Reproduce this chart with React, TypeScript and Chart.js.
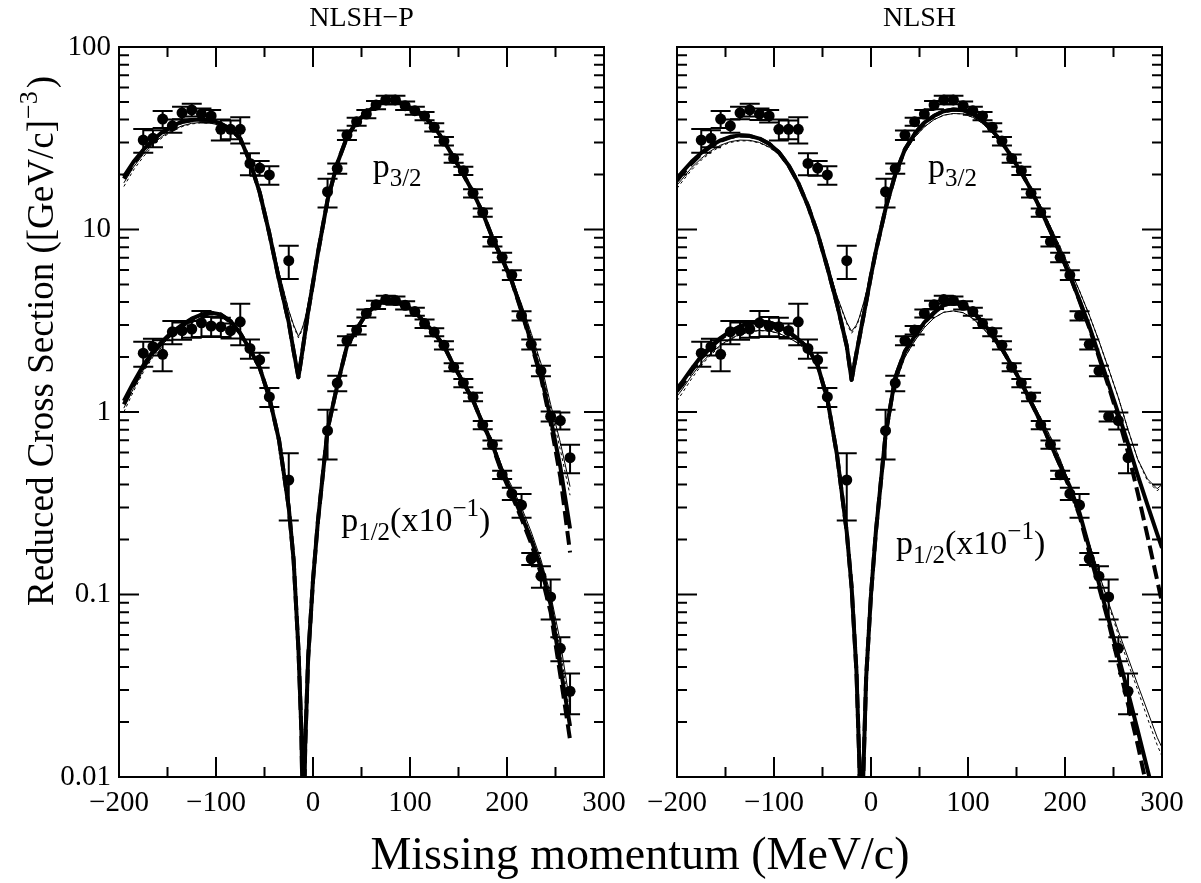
import { useEffect, useRef } from 'react';
import { Chart, registerables } from 'chart.js';

Chart.register(...registerables);

// ---------------- data ----------------
// measured points (same data in both panels)
const DATA_X = [-175, -165, -155, -145, -135, -125, -115, -105, -95, -85, -75, -65, -55, -45, -25, 15, 25, 35, 45, 55, 65, 75, 85, 95, 105, 115, 125, 135, 145, 155, 165, 175, 185, 195, 205, 215, 225, 235, 245, 255, 265];
const P32_Y = [30.9, 31.6, 40.3, 37.0, 43.6, 45.2, 42.9, 41.9, 35.4, 35.4, 35.4, 23.0, 21.7, 19.9, 6.75, 16.1, 21.6, 32.9, 39.0, 42.9, 48.1, 51.3, 51.3, 47.7, 44.8, 41.9, 36.3, 30.5, 24.5, 21.0, 15.8, 12.4, 8.58, 7.04, 5.63, 3.37, 2.35, 1.68, 0.946, 0.898, 0.562];
const P32_ERR = [4.6, 3.4, 4.3, 3.1, 3.4, 3.6, 3.1, 3.3, 4.7, 4.2, 5.8, 3.2, 2.0, 2.3, 1.4, 2.9, 1.4, 2.0, 2.0, 2.2, 2.5, 2.7, 2.7, 2.5, 2.3, 2.2, 1.9, 1.6, 1.3, 1.1, 0.82, 0.65, 0.52, 0.42, 0.35, 0.2, 0.15, 0.11, 0.06, 0.095, 0.1];
const P12_Y = [2.10, 2.28, 2.07, 2.75, 2.79, 2.85, 3.08, 2.96, 2.93, 2.79, 3.12, 2.23, 1.93, 1.21, 0.424, 0.79, 1.44, 2.46, 2.81, 3.47, 3.87, 4.13, 4.08, 3.84, 3.55, 3.05, 2.74, 2.32, 1.76, 1.44, 1.21, 0.849, 0.664, 0.453, 0.357, 0.309, 0.157, 0.126, 0.097, 0.0507, 0.0295];
const P12_ERR = [0.33, 0.24, 0.40, 0.40, 0.30, 0.30, 0.50, 0.36, 0.35, 0.26, 0.8, 0.27, 0.18, 0.145, 0.17, 0.24, 0.14, 0.14, 0.15, 0.18, 0.2, 0.21, 0.21, 0.2, 0.18, 0.16, 0.14, 0.12, 0.09, 0.075, 0.063, 0.044, 0.035, 0.024, 0.028, 0.046, 0.012, 0.017, 0.024, 0.0076, 0.0074];

// calculations, left panel (NLSH-P)
const CURVE_X_L = [-195, -185, -175, -165, -155, -145, -135, -125, -115, -105, -95, -85, -75, -65, -55, -45, -35, -25, -20, -15, -12, -10, -8, -5, 0, 5, 15, 25, 35, 45, 55, 65, 75, 85, 95, 105, 115, 125, 135, 145, 155, 165, 175, 185, 195, 205, 215, 225, 235, 245, 255, 265];
const L_P32_THICK = [19.5, 23.5, 27.3, 30.9, 34.3, 36.9, 39, 39.8, 40, 39.8, 38, 35.5, 31.5, 23.5, 16, 9.5, 5.3, 3.1, 2.16, 1.55, 1.97, 2.33, 2.75, 3.54, 5.1, 7.4, 14.5, 23, 32, 39, 43.5, 48, 51, 51, 48, 45, 41.5, 36.5, 30.5, 24.8, 20, 16, 12.3, 9.0, 6.9, 5.2, 3.6, 2.4, 1.6, 0.92, 0.5, 0.23];
const L_P32_DASH = [19, 23, 27, 30.6, 34, 36.7, 38.8, 39.7, 40, 39.8, 38, 35.5, 31.5, 23.5, 16, 9.5, 5.3, 3.1, 2.16, 1.55, 1.97, 2.33, 2.75, 3.54, 5.1, 7.4, 14.5, 23, 32, 39, 43.5, 48, 51, 51, 48, 45, 41.5, 36.5, 30.5, 24.8, 20, 16, 12.3, 9.0, 6.9, 5.2, 3.55, 2.35, 1.55, 0.87, 0.44, 0.17];
const L_P32_THIN = [18, 22, 25.8, 29.5, 32.5, 35, 37, 38.2, 38.6, 38.3, 37, 34.8, 31, 23.5, 16.2, 9.8, 5.8, 3.6, 3.0, 2.6, 2.8, 3.0, 3.3, 3.9, 5.3, 7.5, 14.5, 23, 32, 39, 43.5, 48, 51, 51, 48, 45, 41.5, 36.5, 30.5, 24.8, 20, 16, 12.4, 9.2, 7.1, 5.4, 3.9, 2.7, 1.85, 1.1, 0.68, 0.39];
const L_P32_DOT = [17.2, 21.2, 25, 28.8, 32, 34.5, 36.6, 37.9, 38.4, 38.2, 37, 34.8, 31, 23.5, 16.2, 9.8, 5.8, 3.6, 2.95, 2.55, 2.75, 2.95, 3.25, 3.85, 5.3, 7.5, 14.5, 23, 32, 39, 43.5, 48, 51, 51, 48, 45, 41.5, 36.5, 30.5, 24.8, 20, 16, 12.4, 9.2, 7.1, 5.4, 3.85, 2.65, 1.8, 1.05, 0.62, 0.35];
const L_P12_THICK = [1.15, 1.45, 1.8, 2.15, 2.45, 2.75, 3.0, 3.25, 3.42, 3.5, 3.42, 3.15, 2.7, 2.2, 1.75, 1.2, 0.7, 0.3, 0.155, 0.05, 0.018, 0.004, 0.015, 0.045, 0.12, 0.25, 0.8, 1.4, 2.3, 2.85, 3.45, 3.85, 4.1, 4.05, 3.85, 3.55, 3.1, 2.72, 2.3, 1.8, 1.45, 1.16, 0.86, 0.66, 0.47, 0.36, 0.27, 0.2, 0.14, 0.088, 0.04, 0.019];
const L_P12_DASH = [1.1, 1.4, 1.76, 2.1, 2.42, 2.72, 2.98, 3.23, 3.4, 3.48, 3.42, 3.15, 2.7, 2.2, 1.75, 1.2, 0.7, 0.3, 0.155, 0.05, 0.018, 0.004, 0.015, 0.045, 0.12, 0.25, 0.8, 1.4, 2.3, 2.85, 3.45, 3.85, 4.1, 4.05, 3.85, 3.55, 3.1, 2.72, 2.3, 1.8, 1.45, 1.16, 0.86, 0.65, 0.46, 0.35, 0.26, 0.19, 0.13, 0.08, 0.036, 0.016];
const L_P12_THIN = [1.05, 1.35, 1.7, 2.05, 2.35, 2.65, 2.9, 3.12, 3.28, 3.35, 3.3, 3.08, 2.68, 2.2, 1.75, 1.2, 0.7, 0.3, 0.155, 0.052, 0.019, 0.004, 0.016, 0.047, 0.125, 0.26, 0.8, 1.4, 2.3, 2.85, 3.42, 3.82, 4.05, 4.02, 3.82, 3.55, 3.12, 2.75, 2.33, 1.84, 1.5, 1.2, 0.9, 0.7, 0.5, 0.39, 0.3, 0.22, 0.155, 0.1, 0.055, 0.025];
const L_P12_DOT = [1.0, 1.3, 1.65, 2.0, 2.3, 2.6, 2.85, 3.08, 3.25, 3.33, 3.28, 3.06, 2.67, 2.2, 1.75, 1.2, 0.7, 0.3, 0.155, 0.052, 0.019, 0.004, 0.016, 0.047, 0.125, 0.26, 0.8, 1.4, 2.3, 2.85, 3.42, 3.82, 4.05, 4.02, 3.82, 3.55, 3.12, 2.75, 2.33, 1.84, 1.5, 1.2, 0.9, 0.7, 0.5, 0.38, 0.29, 0.21, 0.15, 0.095, 0.05, 0.022];

// calculations, right panel (NLSH)
const CURVE_X_R = [-200, -195, -185, -175, -165, -155, -145, -135, -125, -115, -105, -95, -85, -75, -65, -55, -45, -35, -25, -20, -15, -12, -10, -8, -5, 0, 5, 15, 25, 35, 45, 55, 65, 75, 85, 95, 105, 115, 125, 135, 145, 155, 165, 175, 185, 195, 205, 215, 225, 235, 245, 255, 265, 275, 285, 295, 300];
const R_P32_THICK = [19, 20.5, 23.5, 26.3, 28.8, 30.8, 32.2, 32.8, 32.6, 31.5, 29.5, 26.5, 22.5, 18, 13.5, 9.5, 6.2, 3.9, 2.3, 1.5, 2.1, 2.55, 2.9, 3.3, 4.0, 5.6, 7.6, 13, 20, 27.5, 33.5, 38.5, 42, 44.5, 45.5, 45, 43, 39.5, 35, 30, 25, 20.5, 16.5, 12.8, 9.8, 7.4, 5.6, 4.1, 2.95, 2.05, 1.42, 0.98, 0.67, 0.45, 0.31, 0.215, 0.18];
const R_P32_DASH = [18.5, 20, 23, 26, 28.5, 30.6, 32, 32.7, 32.5, 31.5, 29.5, 26.5, 22.5, 18, 13.5, 9.5, 6.2, 3.9, 2.3, 1.5, 2.1, 2.55, 2.9, 3.3, 4.0, 5.6, 7.6, 13, 20, 27.5, 33.5, 38.5, 42, 44.5, 45.5, 45, 43, 39.5, 35, 30, 25, 20.5, 16.5, 12.8, 9.8, 7.4, 5.6, 4.05, 2.9, 2.0, 1.38, 0.93, 0.6, 0.36, 0.21, 0.12, 0.09];
const R_P32_THIN = [17.5, 18.8, 21.8, 24.5, 27, 29, 30.3, 30.9, 30.8, 30, 28.3, 25.8, 22.2, 18, 13.6, 9.7, 6.5, 4.3, 3.1, 2.77, 3.0, 3.3, 3.6, 3.9, 4.5, 5.9, 7.8, 12.8, 19.5, 26.5, 32, 36.5, 40, 42.3, 43.2, 43, 41.2, 38.2, 34, 29.5, 25, 20.8, 16.9, 13.4, 10.4, 8.0, 6.1, 4.6, 3.4, 2.45, 1.72, 1.2, 0.8, 0.55, 0.43, 0.38, 0.4];
const R_P32_DOT = [16.8, 18.2, 21.2, 24, 26.5, 28.6, 30, 30.6, 30.6, 29.8, 28.2, 25.8, 22.2, 18, 13.6, 9.7, 6.5, 4.3, 3.05, 2.7, 2.95, 3.25, 3.55, 3.85, 4.45, 5.9, 7.8, 12.8, 19.5, 26.5, 32, 36.5, 40, 42.3, 43.2, 43, 41.2, 38.2, 34, 29.5, 25, 20.8, 16.9, 13.4, 10.4, 8.0, 6.1, 4.6, 3.4, 2.45, 1.72, 1.2, 0.8, 0.55, 0.42, 0.37, 0.39];
const R_P12_THICK = [1.35, 1.45, 1.72, 2.02, 2.3, 2.55, 2.77, 2.95, 3.08, 3.13, 3.1, 2.97, 2.75, 2.5, 2.25, 1.8, 1.18, 0.58, 0.22, 0.11, 0.038, 0.012, 0.003, 0.01, 0.035, 0.1, 0.22, 0.75, 1.55, 2.15, 2.6, 3.1, 3.5, 3.85, 3.98, 3.88, 3.55, 3.1, 2.65, 2.22, 1.8, 1.45, 1.13, 0.88, 0.67, 0.51, 0.39, 0.28, 0.18, 0.115, 0.073, 0.046, 0.029, 0.018, 0.011, 0.0068, 0.0053];
const R_P12_DASH = [1.3, 1.4, 1.68, 1.98, 2.27, 2.52, 2.75, 2.93, 3.06, 3.12, 3.1, 2.97, 2.75, 2.5, 2.25, 1.8, 1.18, 0.58, 0.22, 0.11, 0.038, 0.012, 0.003, 0.01, 0.035, 0.1, 0.22, 0.75, 1.55, 2.15, 2.6, 3.1, 3.5, 3.85, 3.98, 3.88, 3.55, 3.1, 2.65, 2.22, 1.8, 1.45, 1.13, 0.88, 0.67, 0.51, 0.38, 0.27, 0.17, 0.11, 0.07, 0.042, 0.025, 0.015, 0.0085, 0.005, 0.004];
const R_P12_THIN = [1.22, 1.32, 1.58, 1.85, 2.1, 2.33, 2.52, 2.67, 2.76, 2.8, 2.78, 2.7, 2.55, 2.38, 2.15, 1.75, 1.16, 0.58, 0.22, 0.11, 0.04, 0.013, 0.003, 0.011, 0.036, 0.1, 0.21, 0.7, 1.42, 2.0, 2.45, 2.9, 3.28, 3.52, 3.58, 3.5, 3.25, 2.9, 2.52, 2.15, 1.78, 1.46, 1.17, 0.93, 0.73, 0.55, 0.4, 0.28, 0.19, 0.13, 0.09, 0.063, 0.045, 0.032, 0.023, 0.0165, 0.0145];
const R_P12_DOT = [1.15, 1.26, 1.52, 1.8, 2.06, 2.3, 2.5, 2.65, 2.75, 2.79, 2.77, 2.7, 2.55, 2.38, 2.15, 1.75, 1.16, 0.58, 0.22, 0.11, 0.04, 0.013, 0.003, 0.011, 0.036, 0.1, 0.21, 0.7, 1.42, 2.0, 2.45, 2.9, 3.28, 3.52, 3.58, 3.5, 3.25, 2.9, 2.52, 2.15, 1.78, 1.46, 1.17, 0.93, 0.73, 0.55, 0.4, 0.28, 0.19, 0.13, 0.088, 0.06, 0.042, 0.03, 0.021, 0.015, 0.013];

// axes
const X_MIN = -200;
const X_MAX = 300;
const X_LABEL_STEP = 100;
const X_MINOR_STEP = 50;
const Y_MIN = 0.01;
const Y_MAX = 100;
const PANEL_TITLES = ['NLSH\u2212P', 'NLSH'];
const X_TITLE = 'Missing momentum (MeV/c)';
const Y_TITLE_MAIN = 'Reduced Cross Section ([GeV/c]';
const Y_TITLE_SUP = '\u22123';
const Y_TITLE_END = ')';

// ---------------- styles ----------------
const W = 1201;
const H = 883;
const FONT = '"Liberation Serif", "Times New Roman", Times, serif';
const BLACK = '#000';

const STYLE_THICK = { borderWidth: 4, borderDash: [] as number[] };
const STYLE_DASH = { borderWidth: 4, borderDash: [14, 6] };
const STYLE_THIN = { borderWidth: 1, borderDash: [] as number[] };
const STYLE_DOT = { borderWidth: 1, borderDash: [3, 3] };

function curve(xs: number[], ys: number[], style: any) {
  return {
    type: 'line',
    data: xs.map((x, i) => ({ x, y: ys[i] })),
    borderColor: BLACK,
    backgroundColor: BLACK,
    borderWidth: style.borderWidth,
    borderDash: style.borderDash,
    borderJoinStyle: 'round',
    pointRadius: 0,
    tension: 0,
    fill: false,
    clip: 0,
  };
}

function points(xs: number[], ys: number[], errs: number[]) {
  return {
    type: 'line',
    data: xs.map((x, i) => ({ x, y: ys[i] })),
    errorBars: errs,
    showLine: false,
    pointRadius: 5.5,
    pointBackgroundColor: BLACK,
    pointBorderColor: BLACK,
    pointBorderWidth: 0,
    borderColor: BLACK,
    clip: 0,
  };
}

// frame + inward ticks on all four sides
const frameTicksPlugin = {
  id: 'frameTicks',
  afterDatasetsDraw(chart: any) {
    const { ctx, chartArea: a, scales } = chart;
    const xs = scales.x;
    const ys = scales.y;
    const MAJOR = 20;
    const MINOR = 10;
    ctx.save();
    ctx.strokeStyle = BLACK;
    ctx.lineWidth = 2;
    ctx.beginPath();
    for (let v = xs.min + X_MINOR_STEP; v < xs.max - 1e-9; v += X_MINOR_STEP) {
      const px = xs.getPixelForValue(v);
      const len = Math.abs(v % X_LABEL_STEP) < 1e-9 ? MAJOR : MINOR;
      ctx.moveTo(px, a.bottom);
      ctx.lineTo(px, a.bottom - len);
      ctx.moveTo(px, a.top);
      ctx.lineTo(px, a.top + len);
    }
    const e0 = Math.floor(Math.log10(ys.min));
    const e1 = Math.ceil(Math.log10(ys.max));
    for (let e = e0; e <= e1; e++) {
      for (let k = 1; k <= 9; k++) {
        const v = k * Math.pow(10, e);
        if (v <= ys.min * 1.0001 || v >= ys.max * 0.9999) continue;
        const py = ys.getPixelForValue(v);
        const len = k === 1 ? MAJOR : MINOR;
        ctx.moveTo(a.left, py);
        ctx.lineTo(a.left + len, py);
        ctx.moveTo(a.right, py);
        ctx.lineTo(a.right - len, py);
      }
    }
    ctx.stroke();
    ctx.strokeRect(a.left, a.top, a.right - a.left, a.bottom - a.top);
    ctx.restore();
  },
};

// vertical error bars with caps
const errorBarPlugin = {
  id: 'errorBars',
  beforeDatasetsDraw(chart: any) {
    const { ctx, chartArea: a, scales } = chart;
    const xs = scales.x;
    const ys = scales.y;
    const CAP = 10;
    ctx.save();
    ctx.beginPath();
    ctx.rect(a.left, a.top, a.right - a.left, a.bottom - a.top);
    ctx.clip();
    ctx.strokeStyle = BLACK;
    ctx.lineWidth = 2;
    chart.data.datasets.forEach((ds: any) => {
      if (!ds.errorBars) return;
      ds.data.forEach((p: any, j: number) => {
        const e = ds.errorBars[j];
        const px = xs.getPixelForValue(p.x);
        const yt = ys.getPixelForValue(p.y + e);
        const lo = p.y - e;
        const yb = lo > 0 ? ys.getPixelForValue(lo) : a.bottom + 10;
        ctx.beginPath();
        ctx.moveTo(px, yt);
        ctx.lineTo(px, yb);
        ctx.moveTo(px - CAP, yt);
        ctx.lineTo(px + CAP, yt);
        if (lo > 0) {
          ctx.moveTo(px - CAP, yb);
          ctx.lineTo(px + CAP, yb);
        }
        ctx.stroke();
      });
    });
    ctx.restore();
  },
};

// state labels and axis titles
const textPlugin = {
  id: 'panelText',
  afterDraw(chart: any, _args: any, opts: any) {
    const { ctx, scales } = chart;
    const xs = scales.x;
    const ys = scales.y;
    ctx.save();
    ctx.fillStyle = BLACK;
    ctx.textBaseline = 'alphabetic';
    ctx.textAlign = 'left';
    for (const lab of opts.labels || []) {
      let cx = xs.getPixelForValue(lab.x);
      const by = ys.getPixelForValue(lab.y);
      for (const seg of lab.parts) {
        const size = seg.k === 'n' ? 34 : 25;
        const dy = seg.k === 'sub' ? 9 : seg.k === 'sup' ? -15 : 0;
        ctx.font = `${size}px ${FONT}`;
        ctx.fillText(seg.t, cx, by + dy);
        cx += ctx.measureText(seg.t).width;
      }
    }
    if (opts.yTitle) {
      ctx.save();
      ctx.translate(opts.yTitle.x, opts.yTitle.y);
      ctx.rotate(-Math.PI / 2);
      ctx.font = `37px ${FONT}`;
      ctx.fillText(Y_TITLE_MAIN, 0, 0);
      let w = ctx.measureText(Y_TITLE_MAIN).width;
      ctx.font = `26px ${FONT}`;
      ctx.fillText(Y_TITLE_SUP, w + 1, -16);
      w += ctx.measureText(Y_TITLE_SUP).width + 4;
      ctx.font = `37px ${FONT}`;
      ctx.fillText(Y_TITLE_END, w, 0);
      ctx.restore();
    }
    if (opts.xTitle) {
      ctx.font = `46px ${FONT}`;
      ctx.textAlign = 'center';
      ctx.fillText(X_TITLE, opts.xTitle.x, opts.xTitle.y);
    }
    ctx.restore();
  },
};

function p32Label(x: number, y: number) {
  return { x, y, parts: [{ t: 'p', k: 'n' }, { t: '3/2', k: 'sub' }] };
}
function p12Label(x: number, y: number) {
  return {
    x,
    y,
    parts: [
      { t: 'p', k: 'n' },
      { t: '1/2', k: 'sub' },
      { t: '(x10', k: 'n' },
      { t: '\u22121', k: 'sup' },
      { t: ')', k: 'n' },
    ],
  };
}

function makeConfig(panel: any): any {
  const tickFont = { family: FONT, size: 29, weight: 'normal' };
  return {
    type: 'line',
    data: { datasets: panel.datasets },
    options: {
      animation: false,
      responsive: false,
      events: [],
      layout: {
        autoPadding: false,
        padding: { left: panel.padLeft, right: panel.padRight, top: 0, bottom: 0 },
      },
      plugins: {
        legend: { display: false },
        tooltip: { enabled: false },
        title: {
          display: true,
          text: panel.title,
          fullSize: false,
          color: BLACK,
          font: { family: FONT, size: 28, weight: 'normal', lineHeight: 1.2 },
          padding: { top: 2, bottom: 11.4 },
        },
        panelText: panel.text,
      },
      scales: {
        x: {
          type: 'linear',
          min: X_MIN,
          max: X_MAX,
          grid: { display: false, drawTicks: false },
          border: { display: false },
          ticks: {
            stepSize: X_LABEL_STEP,
            autoSkip: false,
            maxRotation: 0,
            padding: 9,
            color: BLACK,
            font: tickFont,
            callback: (v: number) => (v < 0 ? '\u2212' + Math.abs(v) : String(v)),
          },
          afterFit: (s: any) => {
            s.height = 106;
          },
        },
        y: {
          type: 'logarithmic',
          min: Y_MIN,
          max: Y_MAX,
          grid: { display: false, drawTicks: false },
          border: { display: false },
          ticks: {
            display: panel.showYLabels,
            autoSkip: false,
            padding: 8,
            color: BLACK,
            font: tickFont,
            callback: (v: number) => {
              const l = Math.log10(v);
              return Math.abs(l - Math.round(l)) < 1e-6 ? String(Number(v.toPrecision(1))) : '';
            },
          },
          afterFit: (s: any) => {
            s.width = panel.yWidth;
          },
        },
      },
    },
    plugins: [errorBarPlugin, frameTicksPlugin, textPlugin],
  };
}

function panelDatasets(xs: number[], c: any) {
  return [
    curve(xs, c.p32dot, STYLE_DOT),
    curve(xs, c.p32thin, STYLE_THIN),
    curve(xs, c.p32dash, STYLE_DASH),
    curve(xs, c.p32thick, STYLE_THICK),
    curve(xs, c.p12dot, STYLE_DOT),
    curve(xs, c.p12thin, STYLE_THIN),
    curve(xs, c.p12dash, STYLE_DASH),
    curve(xs, c.p12thick, STYLE_THICK),
    points(DATA_X, P32_Y, P32_ERR),
    points(DATA_X, P12_Y, P12_ERR),
  ];
}

export default function App() {
  const leftRef = useRef<HTMLCanvasElement>(null);
  const rightRef = useRef<HTMLCanvasElement>(null);

  useEffect(() => {
    const left = new Chart(
      leftRef.current as HTMLCanvasElement,
      makeConfig({
        title: PANEL_TITLES[0],
        padLeft: 0,
        padRight: W - 604,
        yWidth: 119,
        showYLabels: true,
        datasets: panelDatasets(CURVE_X_L, {
          p32thick: L_P32_THICK,
          p32dash: L_P32_DASH,
          p32thin: L_P32_THIN,
          p32dot: L_P32_DOT,
          p12thick: L_P12_THICK,
          p12dash: L_P12_DASH,
          p12thin: L_P12_THIN,
          p12dot: L_P12_DOT,
        }),
        text: {
          labels: [p32Label(61.5, 19.4), p12Label(29, 0.222)],
          yTitle: { x: 53, y: 606 },
          xTitle: { x: 640, y: 869 },
        },
      })
    );
    const right = new Chart(
      rightRef.current as HTMLCanvasElement,
      makeConfig({
        title: PANEL_TITLES[1],
        padLeft: 677,
        padRight: W - 1162,
        yWidth: 0,
        showYLabels: false,
        datasets: panelDatasets(CURVE_X_R, {
          p32thick: R_P32_THICK,
          p32dash: R_P32_DASH,
          p32thin: R_P32_THIN,
          p32dot: R_P32_DOT,
          p12thick: R_P12_THICK,
          p12dash: R_P12_DASH,
          p12thin: R_P12_THIN,
          p12dot: R_P12_DOT,
        }),
        text: {
          labels: [p32Label(58.8, 19.4), p12Label(25.8, 0.166)],
        },
      })
    );
    return () => {
      left.destroy();
      right.destroy();
    };
  }, []);

  return (
    <div style={{ position: 'absolute', left: 0, top: 0, width: W, height: H, background: '#fff' }}>
      <canvas ref={leftRef} width={W} height={H} style={{ position: 'absolute', left: 0, top: 0 }} />
      <canvas ref={rightRef} width={W} height={H} style={{ position: 'absolute', left: 0, top: 0 }} />
    </div>
  );
}
